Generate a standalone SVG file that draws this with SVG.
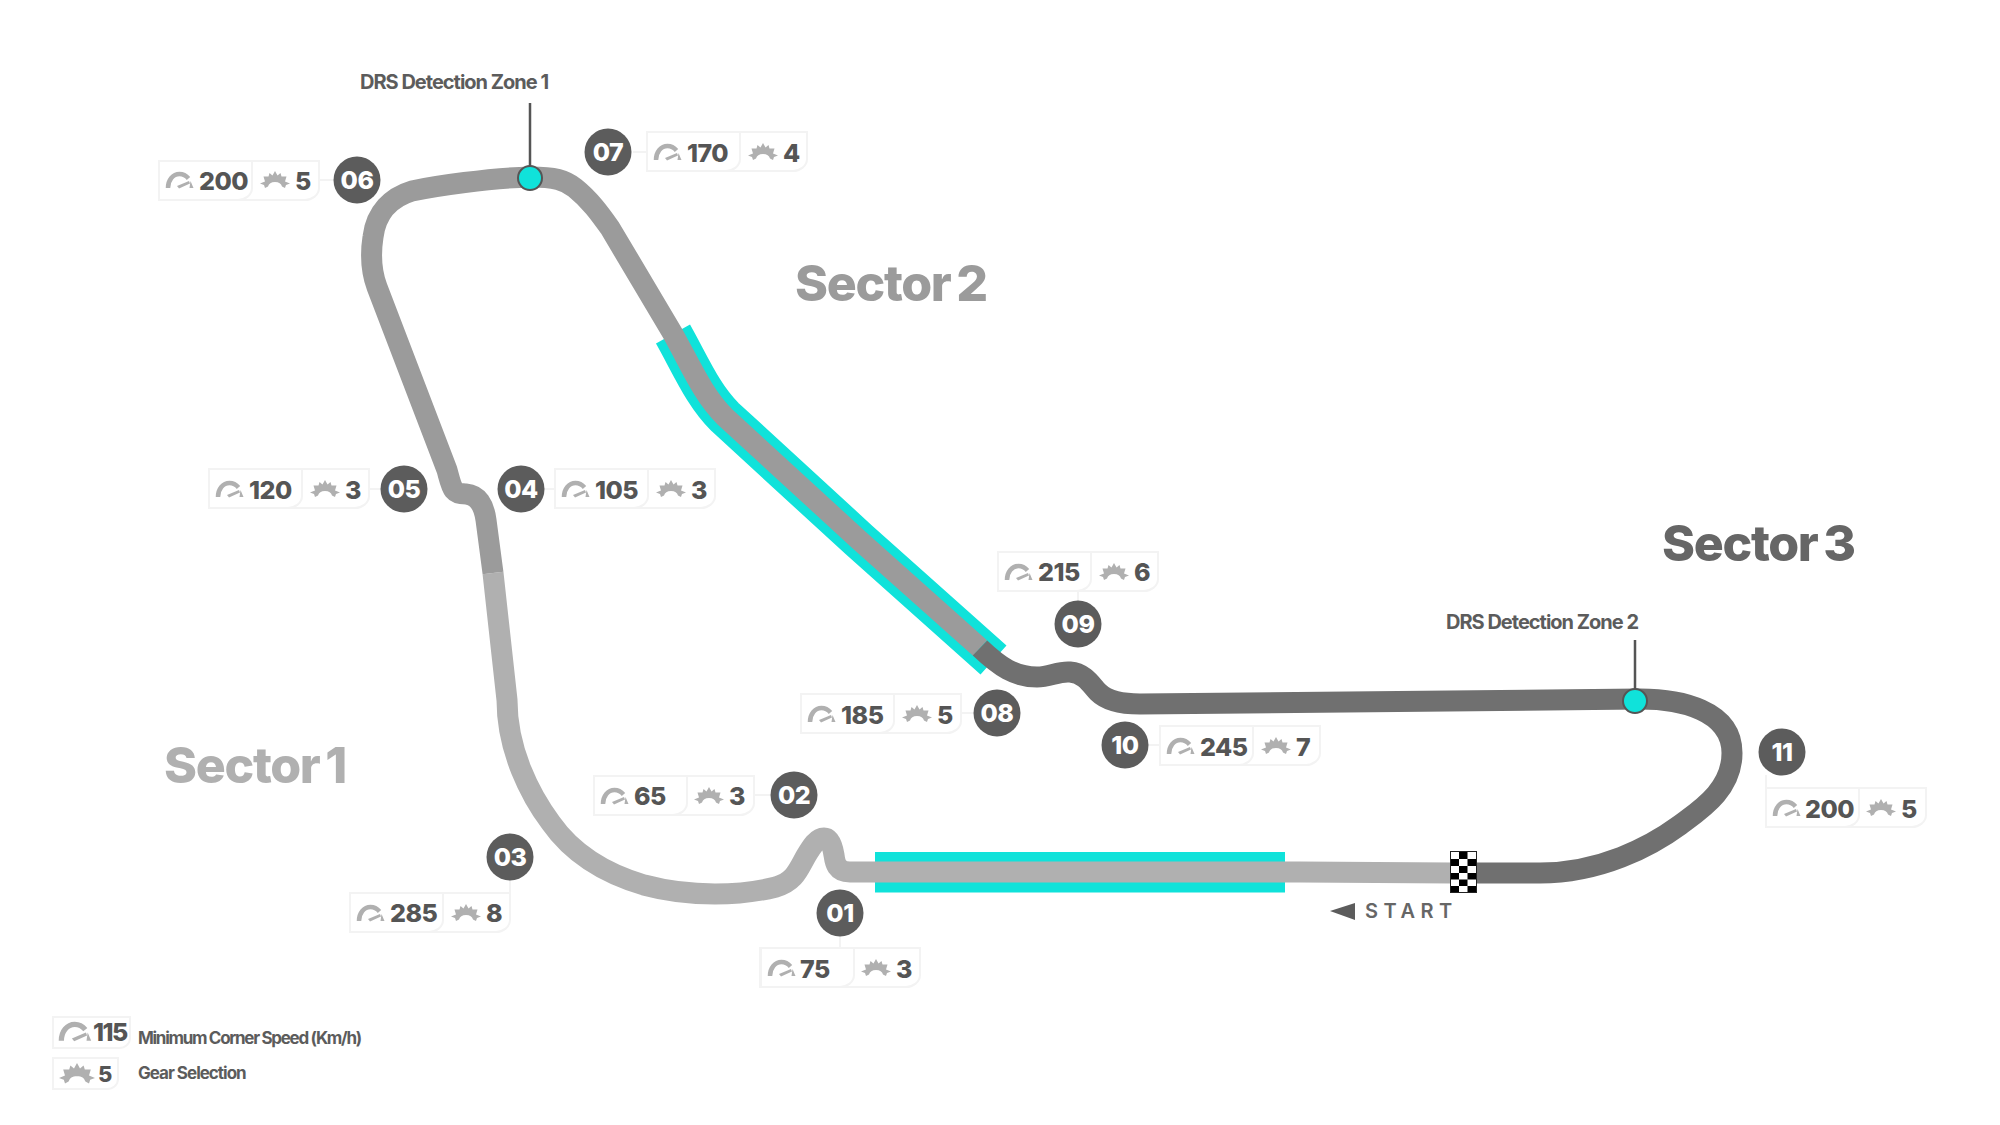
<svg xmlns="http://www.w3.org/2000/svg" xmlns:xlink="http://www.w3.org/1999/xlink" width="2000" height="1125" viewBox="0 0 2000 1125">
<style>
text{font-family:Inter,"Liberation Sans",sans-serif}
.trk{fill:none;stroke-width:21;stroke-linecap:butt;stroke-linejoin:round}
.box{fill:#fff;stroke:#f3f3f3;stroke-width:2}
.lead{stroke:#f3f3f3;stroke-width:2;fill:none}
.pin{stroke:#555;stroke-width:2.5}
.drs{fill:#10e2da;stroke:#555;stroke-width:2}
.num{fill:#fff;font-size:25px;font-weight:800;text-anchor:middle;letter-spacing:-.5px}
.val{fill:#555;font-size:25px;font-weight:800;letter-spacing:-.5px}
.lab{fill:#5c5c5c;font-size:20px;font-weight:700;letter-spacing:-1px}
.leg{fill:#5c5c5c;font-size:17px;font-weight:700}
.sec{font-size:50px;font-weight:800;letter-spacing:-1.3px;word-spacing:-4px}
.bad{fill:#5c5c5c}
</style>
<defs>
<g id="gauge"><path d="M2 16C2 8 7 2 13.5 2C17 2 20 3.500 22.500 6.500" fill="none" stroke="#b0b0b0" stroke-width="4.500"/><path d="M11 14L23 9L24 11.500L13 16.500Z" fill="#b0b0b0"/><path d="M24.500 9L27.500 16L23.500 16Z" fill="#b0b0b0"/></g>
<path id="gear" fill="#b0b0b0" d="M0 12.500L5 10.500L3.500 5.500L8.500 5.500L9.500 2L12.500 4.500L15 0L17.500 4.500L20.500 2L21.500 5.500L26.500 5.500L25 10.500L30 12.500L26 14L25 17L22 15.500C21 12.500 19 11 15 11C11 11 9 12.500 8 15.500L5 17L4 14Z"/>
<path id="cell" d="M0 0H93V27C93 34 86 39 79 39H0Z"/>
<path id="outer" d="M0 0H160V27C160 34 153 39 146 39H0Z"/>
</defs>

<g id="track">
<path class="trk" stroke="#10e2da" style="stroke-width:39" d="M673 334C692 368 703 395 725 417L859 540L993.500 660"/>
<rect x="875" y="852" width="410" height="40.500" fill="#10e2da"/>
<path class="trk" stroke="#b0b0b0" d="M1452 873L1300 872L850 872C836 872 835 862 834 855C832 843 829 838 824 838C817 838 812 846 806 856C798 870 795 881 776 887C760 891 740 894 715 894C690 894 670 892 644 885C600 872 570 850 551 823C530 795 507 750 507 700L493 573"/>
<path class="trk" stroke="#9b9b9b" d="M493 573L486 520C484 505 478 495 466 494C452 494 452 488 447 470L377 287C370 268 371 250 373 237C376 212 392 197 412 191C435 186 490 178 530 177C555 177 565 180 575 188C590 200 600 214 610 228L673 334C692 368 703 395 725 417L859 540L980 648"/>
<path class="trk" stroke="#707070" d="M980 648C1000 667 1015 677 1037 677C1050 677 1058 671 1070 672C1085 673 1092 686 1098 692C1106 700 1120 704 1140 704L1640 699C1680 699 1732 710 1732 753C1732 790 1700 810 1680 825C1650 847 1600 873 1540 873L1474 873"/>
</g>

<g id="start-flag">
<rect x="1450.500" y="851.500" width="26" height="41" fill="#fff" stroke="#222" stroke-width="1"/>
<path fill="#000" d="M1459 852h8.500v7h-8.500zM1451 859h8v7h-8zM1467.500 859h8.500v7h-8.500zM1459 866h8.500v7h-8.500zM1451 873h8v6.500h-8zM1467.500 873h8.500v6.500h-8.500zM1459 879.500h8.500v6.500h-8.500zM1451 886h8v6h-8zM1467.500 886h8.500v6h-8.500z"/>
</g>
<g id="start-label"><path class="bad" d="M1330 911L1355 903V920Z"/><text x="1365" y="918" fill="#666" font-size="20" font-weight="600" letter-spacing="5.500">START</text></g>

<g id="connectors">
<path class="lead" d="M318 180H335M782 152H807M633 152H647M370 489H381M543 489H555M510 880V893M754 795H771M840 936V948M961 713H974M1078 591V601M1148 745H1160M1766 775V788"/>
<path class="pin" d="M530 103V166M1635 640V690"/>
</g>

<g id="drs-1"><circle class="drs" cx="530" cy="178" r="12"/><text class="lab" x="360" y="89">DRS Detection Zone 1</text></g>
<g id="drs-2"><circle class="drs" cx="1635" cy="701" r="12"/><text class="lab" x="1446" y="629">DRS Detection Zone 2</text></g>

<g id="sector-1"><text class="sec" x="164" y="783" fill="#b0b0b0">Sector 1</text></g>
<g id="sector-2"><text class="sec" x="795" y="301" fill="#9b9b9b">Sector 2</text></g>
<g id="sector-3"><text class="sec" x="1662" y="561" fill="#666">Sector 3</text></g>

<g id="t01"><use href="#outer" class="box" x="760" y="948"/><use href="#cell" class="box" x="761" y="948"/><use href="#gauge" x="768" y="960"/><text class="val" x="800" y="978">75</text><use href="#gear" x="861" y="959"/><text class="val" x="896" y="978">3</text><circle class="bad" cx="840" cy="913" r="23.500"/><text class="num" x="840" y="922">01</text></g>
<g id="t02"><use href="#outer" class="box" x="594" y="776"/><use href="#cell" class="box" x="594" y="776"/><use href="#gauge" x="601" y="788"/><text class="val" x="634" y="805">65</text><use href="#gear" x="694" y="787"/><text class="val" x="729" y="805">3</text><circle class="bad" cx="794" cy="795" r="23.500"/><text class="num" x="794" y="804">02</text></g>
<g id="t03"><use href="#outer" class="box" x="350" y="893"/><use href="#cell" class="box" x="350" y="893"/><use href="#gauge" x="357" y="905"/><text class="val" x="390" y="922">285</text><use href="#gear" x="451" y="904"/><text class="val" x="486" y="922">8</text><circle class="bad" cx="510" cy="857" r="23.500"/><text class="num" x="510" y="866">03</text></g>
<g id="t04"><use href="#outer" class="box" x="555" y="469"/><use href="#cell" class="box" x="555" y="469"/><use href="#gauge" x="562" y="481"/><text class="val" x="595" y="499">105</text><use href="#gear" x="656" y="480"/><text class="val" x="691" y="499">3</text><circle class="bad" cx="521" cy="489" r="23.500"/><text class="num" x="521" y="498">04</text></g>
<g id="t05"><use href="#outer" class="box" x="209" y="469"/><use href="#cell" class="box" x="209" y="469"/><use href="#gauge" x="216" y="481"/><text class="val" x="249" y="499">120</text><use href="#gear" x="310" y="480"/><text class="val" x="345" y="499">3</text><circle class="bad" cx="404" cy="489" r="23.500"/><text class="num" x="404" y="498">05</text></g>
<g id="t06"><use href="#outer" class="box" x="159" y="161"/><use href="#cell" class="box" x="159" y="161"/><use href="#gauge" x="166" y="172"/><text class="val" x="199" y="190">200</text><use href="#gear" x="260" y="171"/><text class="val" x="295" y="190">5</text><circle class="bad" cx="357" cy="180" r="23.500"/><text class="num" x="357" y="189">06</text></g>
<g id="t07"><use href="#outer" class="box" x="647" y="132"/><use href="#cell" class="box" x="647" y="132"/><use href="#gauge" x="654" y="144"/><text class="val" x="687" y="162">170</text><use href="#gear" x="748" y="143"/><text class="val" x="783" y="162">4</text><circle class="bad" cx="608" cy="152" r="23.500"/><text class="num" x="608" y="161">07</text></g>
<g id="t08"><use href="#outer" class="box" x="801" y="694"/><use href="#cell" class="box" x="801" y="694"/><use href="#gauge" x="808" y="706"/><text class="val" x="841" y="724">185</text><use href="#gear" x="902" y="705"/><text class="val" x="937" y="724">5</text><circle class="bad" cx="997" cy="713" r="23.500"/><text class="num" x="997" y="722">08</text></g>
<g id="t09"><use href="#outer" class="box" x="998" y="552"/><use href="#cell" class="box" x="998" y="552"/><use href="#gauge" x="1005" y="564"/><text class="val" x="1038" y="581">215</text><use href="#gear" x="1099" y="563"/><text class="val" x="1134" y="581">6</text><circle class="bad" cx="1078" cy="624" r="23.500"/><text class="num" x="1078" y="633">09</text></g>
<g id="t10"><use href="#outer" class="box" x="1160" y="726"/><use href="#cell" class="box" x="1160" y="726"/><use href="#gauge" x="1167" y="738"/><text class="val" x="1200" y="756">245</text><use href="#gear" x="1261" y="737"/><text class="val" x="1296" y="756">7</text><circle class="bad" cx="1125" cy="745" r="23.500"/><text class="num" x="1125" y="754">10</text></g>
<g id="t11"><use href="#outer" class="box" x="1766" y="788"/><use href="#cell" class="box" x="1766" y="788"/><use href="#gauge" x="1773" y="800"/><text class="val" x="1805" y="818">200</text><use href="#gear" x="1866" y="799"/><text class="val" x="1901" y="818">5</text><circle class="bad" cx="1782" cy="752" r="23.500"/><text class="num" x="1782" y="761">11</text></g>

<g id="legend-speed"><path class="box" d="M53 1017H130V1038C130 1044 125 1048 119 1048H53Z"/><use href="#gauge" transform="translate(59 1022) scale(1.17)"/><text class="val" x="93" y="1041" style="letter-spacing:-1.500px">115</text><text class="leg" x="138" y="1044" style="letter-spacing:-1.3px">Minimum Corner Speed (Km/h)</text></g>
<g id="legend-gear"><path class="box" d="M53 1058H118V1079C118 1085 113 1089 107 1089H53Z"/><use href="#gear" transform="translate(59 1063) scale(1.2)"/><text class="val" x="98" y="1082" style="font-size:22px">5</text><text class="leg" x="138" y="1079" style="letter-spacing:-1px">Gear Selection</text></g>
</svg>
